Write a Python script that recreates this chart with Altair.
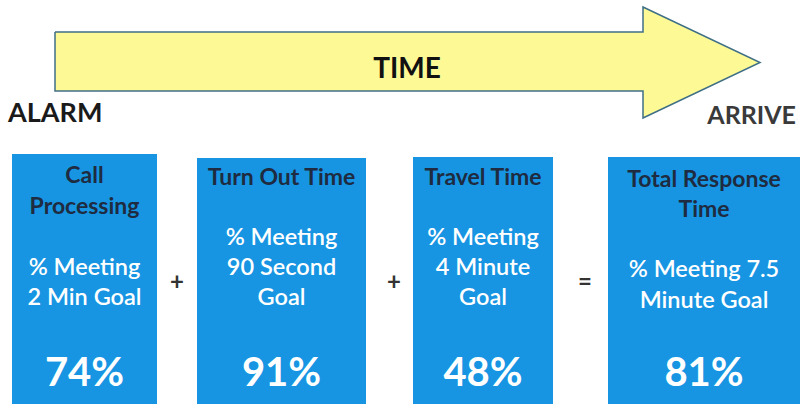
import altair as alt
import pandas as pd

# ---- data ----
stages = ["Call Processing", "Turn Out Time", "Travel Time", "Total Response Time"]
header_lines = [["Call", "Processing"], ["Turn Out Time"], ["Travel Time"], ["Total Response", "Time"]]
goal_lines = [["% Meeting", "2 Min Goal"], ["% Meeting", "90 Second", "Goal"],
              ["% Meeting", "4 Minute", "Goal"], ["% Meeting 7.5", "Minute Goal"]]
pct_values = [74, 91, 48, 81]
operators = ["+", "+", "="]
arrow_label = "TIME"
start_label = "ALARM"
end_label = "ARRIVE"

W, H = 802, 406
FONT = "Lato"
BLUE = "#1795E3"
NAVY = "#1E2B40"

# ---- layout ----
box_left = [12, 197, 413, 608]
box_right = [157, 366, 553, 800]
box_top = [154, 158, 157, 157]
box_bottom = 404
header_y = [[176, 207], [178], [178], [180, 210]]
goal_y = [[268, 298], [238, 268, 298], [238, 268, 298], [270, 301]]
pct_y = 374
op_x = [177, 394, 585]
op_y = 283

xs = alt.Scale(domain=[0, W], range=[0, W], nice=False, zero=False)
ys = alt.Scale(domain=[0, H], range=[0, H], nice=False, zero=False)

def X(f="x"):
    return alt.X(f, type="quantitative", scale=xs, axis=None)

def Y(f="y"):
    return alt.Y(f, type="quantitative", scale=ys, axis=None)

# arrow geometry
BODY_L, BODY_R, BODY_T, BODY_B = 55, 643, 32, 91
HEAD_T, HEAD_B, TIP_X, TIP_Y = 7, 118, 760, 62.5
ARROW_FILL = "#FDFA96"
ARROW_STROKE = "#3F6F86"

body = pd.DataFrame({"x": [BODY_L], "x2": [BODY_R], "y": [BODY_T], "y2": [BODY_B]})
body_layer = alt.Chart(body).mark_rect(fill=ARROW_FILL).encode(
    x=X(), x2="x2", y=Y(), y2="y2")

head = pd.DataFrame({"x": [BODY_R, TIP_X], "y": [HEAD_T, TIP_Y], "y2": [HEAD_B, TIP_Y]})
head_layer = alt.Chart(head).mark_area(
    fill=ARROW_FILL, interpolate="linear", orient="vertical"
).encode(x=X(), y=Y(), y2="y2")

outline = pd.DataFrame({
    "x": [BODY_L, BODY_R, BODY_R, TIP_X, BODY_R, BODY_R, BODY_L, BODY_L],
    "y": [BODY_T, BODY_T, HEAD_T, TIP_Y, HEAD_B, BODY_B, BODY_B, BODY_T],
    "o": list(range(8)),
})
outline_layer = alt.Chart(outline).mark_line(
    color=ARROW_STROKE, strokeWidth=1.5, interpolate="linear"
).encode(x=X(), y=Y(), order="o:Q")

boxes = pd.DataFrame({"stage": stages, "x": box_left, "x2": box_right,
                      "y": box_top, "y2": [box_bottom] * 4})
box_layer = alt.Chart(boxes).mark_rect(fill=BLUE).encode(
    x=X(), x2="x2", y=Y(), y2="y2")

centers = [(l + r) / 2 for l, r in zip(box_left, box_right)]

hdr_rows, goal_rows, pct_rows = [], [], []
for i in range(4):
    for t, yy in zip(header_lines[i], header_y[i]):
        hdr_rows.append({"t": t, "x": centers[i], "y": yy})
    for t, yy in zip(goal_lines[i], goal_y[i]):
        goal_rows.append({"t": t, "x": centers[i], "y": yy})
    pct_rows.append({"t": f"{pct_values[i]}%", "x": centers[i], "y": pct_y})

hdr_layer = alt.Chart(pd.DataFrame(hdr_rows)).mark_text(
    font=FONT, fontSize=23, fontWeight="bold", color=NAVY, baseline="middle", align="center"
).encode(x=X(), y=Y(), text="t:N")

goal_layer = alt.Chart(pd.DataFrame(goal_rows)).mark_text(
    font=FONT, fontSize=23.5, fontWeight=600, color="white", baseline="middle", align="center"
).encode(x=X(), y=Y(), text="t:N")

pct_layer = alt.Chart(pd.DataFrame(pct_rows)).mark_text(
    font=FONT, fontSize=40, fontWeight="bold", color="white", baseline="middle", align="center"
).encode(x=X(), y=Y(), text="t:N")

ops = pd.DataFrame({"t": operators, "x": op_x, "y": [op_y] * 3})
op_layer = alt.Chart(ops).mark_text(
    font=FONT, fontSize=24, fontWeight="bold", color="#333333", baseline="middle", align="center"
).encode(x=X(), y=Y(), text="t:N")

lab_mid = alt.Chart(pd.DataFrame({"t": [arrow_label], "x": [407], "y": [70]})).mark_text(
    font=FONT, fontSize=28, fontWeight="bold", color="#111111", baseline="middle", align="center"
).encode(x=X(), y=Y(), text="t:N")
lab_left = alt.Chart(pd.DataFrame({"t": [start_label], "x": [8], "y": [114]})).mark_text(
    font=FONT, fontSize=27, fontWeight="bold", color="#1a1a1a", baseline="middle", align="left"
).encode(x=X(), y=Y(), text="t:N")
lab_right = alt.Chart(pd.DataFrame({"t": [end_label], "x": [796], "y": [116]})).mark_text(
    font=FONT, fontSize=25, fontWeight="bold", color="#3a3a3a", baseline="middle", align="right"
).encode(x=X(), y=Y(), text="t:N")

chart = alt.layer(
    body_layer, head_layer, outline_layer, box_layer, hdr_layer, goal_layer, pct_layer,
    op_layer, lab_mid, lab_left, lab_right
).properties(
    width=W, height=H, padding=0, autosize=alt.AutoSizeParams(type="none"),
    background="white"
).configure_view(stroke=None)

chart.save("out.html", embed_options={"renderer": "svg", "actions": False})
